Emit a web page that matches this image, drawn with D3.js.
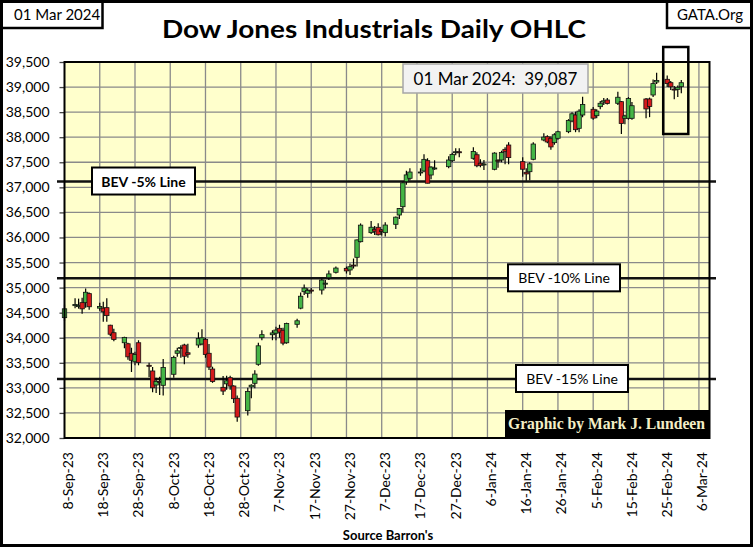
<!DOCTYPE html>
<html>
<head>
<meta charset="utf-8">
<script src="https://cdn.jsdelivr.net/npm/d3@7"></script>
<style>
  body { margin: 0; background: #fff; }
  text { font-family: Lato, "Open Sans", sans-serif; }
</style>
</head>
<body>
<svg class="chart"></svg>
<script>

var width = 753,
    height = 547;

// trading days, Sep 8 2023 .. Mar 1 2024
var days = [
  "2023-09-08","2023-09-11","2023-09-12","2023-09-13","2023-09-14","2023-09-15",
  "2023-09-18","2023-09-19","2023-09-20","2023-09-21","2023-09-22",
  "2023-09-25","2023-09-26","2023-09-27","2023-09-28","2023-09-29",
  "2023-10-02","2023-10-03","2023-10-04","2023-10-05","2023-10-06",
  "2023-10-09","2023-10-10","2023-10-11","2023-10-12","2023-10-13",
  "2023-10-16","2023-10-17","2023-10-18","2023-10-19","2023-10-20",
  "2023-10-23","2023-10-24","2023-10-25","2023-10-26","2023-10-27",
  "2023-10-30","2023-10-31","2023-11-01","2023-11-02","2023-11-03",
  "2023-11-06","2023-11-07","2023-11-08","2023-11-09","2023-11-10",
  "2023-11-13","2023-11-14","2023-11-15","2023-11-16","2023-11-17",
  "2023-11-20","2023-11-21","2023-11-22","2023-11-24",
  "2023-11-27","2023-11-28","2023-11-29","2023-11-30","2023-12-01",
  "2023-12-04","2023-12-05","2023-12-06","2023-12-07","2023-12-08",
  "2023-12-11","2023-12-12","2023-12-13","2023-12-14","2023-12-15",
  "2023-12-18","2023-12-19","2023-12-20","2023-12-21","2023-12-22",
  "2023-12-26","2023-12-27","2023-12-28","2023-12-29",
  "2024-01-02","2024-01-03","2024-01-04","2024-01-05",
  "2024-01-08","2024-01-09","2024-01-10","2024-01-11","2024-01-12",
  "2024-01-16","2024-01-17","2024-01-18","2024-01-19",
  "2024-01-22","2024-01-23","2024-01-24","2024-01-25","2024-01-26",
  "2024-01-29","2024-01-30","2024-01-31","2024-02-01","2024-02-02",
  "2024-02-05","2024-02-06","2024-02-07","2024-02-08","2024-02-09",
  "2024-02-12","2024-02-13","2024-02-14","2024-02-15","2024-02-16",
  "2024-02-20","2024-02-21","2024-02-22","2024-02-23",
  "2024-02-26","2024-02-27","2024-02-28","2024-02-29","2024-03-01"
];

var opens = [
  34400,34640,34620,34700,34700,34880, 34590,34590,34600,34250,34100,
  33900,33880,33690,33520,33900, 33450,33337,33057,33130,33051,
  33271,33690,33790,33855,33700, 33855,33875,33968,33690,33376,
  33011,33080,33203,33037,32792, 32545,33020,33091,33470,34001,
  34060,34090,34188,34150,33900, 34268,34590,34918,34886,34950,
  34952,35080,35197,35305, 35384,35351,35450,35604,35916,
  36096,36163,36203,36149,36096, 36262,36448,36614,37112,37180,
  37300,37326,37532,37246,37370, 37412,37532,37700,37710,
  37579,37650,37480,37460, 37360,37540,37545,37758,37844,
  37512,37300,37312,37559, 37944,38010,37978,37891,37978,
  38110,38323,38443,38177,38443, 38557,38429,38609,38700,38742,
  38676,38709,38377,38377,38377, 38762,38762,38842,39100,
  39155,39088,38960,38955,39008
];

var highs = [
  34660,34790,34780,34800,34980,34900, 34700,34720,34790,34260,34180,
  34020,33900,33800,33720,33950, 33502,33416,33200,33223,33575,
  33640,33800,33850,33880,33880, 34108,34168,34000,33875,33422,
  33237,33240,33240,33050,32850, 33000,33072,33350,33900,34150,
  34150,34220,34260,34200,34300, 34380,34900,35060,34986,34990,
  35180,35150,35340,35420, 35420,35480,35580,35960,36280,
  36330,36230,36282,36170,36302, 36420,36590,37112,37330,37380,
  37380,37659,37580,37420,37540, 37620,37690,37780,37780,
  37800,37700,37560,37545, 37700,37560,37730,37800,37900,
  37600,37380,37500,37900, 38080,38040,38020,38080,38130,
  38360,38500,38510,38560,38809, 38600,38560,38720,38780,38780,
  38908,38720,38450,38800,38700, 38780,38790,39150,39287,
  39230,39120,39020,39030,39140
];

var lows = [
  34330,34590,34580,34480,34600,34560, 34540,34320,34320,34030,33930,
  33790,33560,33316,33450,33450, 33210,32911,32900,32860,32850,
  33200,33620,33600,33470,33600, 33800,33850,33600,33356,33100,
  32860,32960,32960,32700,32325, 32450,32792,32990,33440,33950,
  33950,33950,34000,33850,33880, 34200,34570,34850,34800,34880,
  34860,34980,35150,35280, 35280,35250,35380,35420,35900,
  36070,36050,36040,36040,36020, 36169,36370,36500,37050,37140,
  37230,37300,37080,37160,37350, 37380,37500,37640,37600,
  37550,37400,37400,37346, 37340,37390,37500,37460,37460,
  37212,37133,37140,37540, 37920,37880,37750,37850,37950,
  38080,38300,38100,38100,38400, 38350,38380,38560,38640,38650,
  38640,38064,38260,38350,38350, 38377,38400,38800,39061,
  39000,38940,38756,38800,38876
];

var closes = [
  34577,34664,34646,34576,34907,34618, 34624,34518,34441,34070,33964,
  34007,33619,33550,33666,33508, 33433,33002,33130,33120,33408,
  33605,33739,33805,33631,33670, 33985,33998,33665,33414,33127,
  32936,33141,33036,32784,32418, 32929,33053,33275,33839,34061,
  34096,34153,34112,33892,34283, 34338,34828,34991,34945,34947,
  35151,35088,35273,35390, 35333,35417,35430,35951,36246,
  36204,36125,36054,36117,36248, 36405,36578,37090,37248,37305,
  37306,37558,37082,37404,37386, 37545,37657,37710,37690,
  37715,37430,37440,37466, 37683,37525,37696,37711,37593,
  37361,37267,37469,37864, 38002,37905,37806,38049,38109,
  38333,38467,38150,38520,38654, 38380,38521,38677,38726,38672,
  38797,38273,38424,38773,38628, 38564,38612,39069,39131,
  39069,39005,38949,38996,39087
];

// BEV lines (-5%, -10%, -15%)
var bevLevels = [37116, 35185, 33177];
var bevLabels = ["BEV -5% Line", "BEV -10% Line", "BEV -15% Line"];

var yTicks = d3.range(32000, 39501, 500);
var xStart = "2023-09-08",
    xEnd = "2024-03-09";

var parse = d3.timeParse("%Y-%m-%d");
var fmtX = d3.timeFormat("%-d-%b-%y");

var data = [];
for (i = 0; i < days.length; i++) {
    data.push({date: parse(days[i]), o: opens[i], h: highs[i], l: lows[i], c: closes[i]});
}
var last = data[data.length - 1];

// x tick every 10 days starting at the first day
var xTicks = d3.timeDay.every(1).range(parse(xStart), d3.timeDay.offset(parse(xEnd), -2))
    .filter(function(d, i) { return i % 10 == 0; });

var x = d3.scaleTime()
    .domain([parse(xStart), parse(xEnd)])
    .range([64.5, 709.5]);

var y = d3.scaleLinear()
    .domain([32000, 39500])
    .range([438, 62]);

var svg = d3.select(".chart")
    .attr("width", width)
    .attr("height", height);

svg.append("rect")
    .attr("width", width).attr("height", height)
    .attr("fill", "#fff");

// plot background
svg.append("rect")
    .attr("x", x.range()[0]).attr("y", y.range()[1])
    .attr("width", x.range()[1] - x.range()[0])
    .attr("height", y.range()[0] - y.range()[1])
    .attr("fill", "#ffffcc");

// grid
svg.append("g").selectAll("line")
    .data(yTicks.slice(1, -1))
  .enter().append("line")
    .attr("x1", x.range()[0]).attr("x2", x.range()[1])
    .attr("y1", function(d) { return y(d); })
    .attr("y2", function(d) { return y(d); })
    .attr("stroke", "#8a8a8a").attr("stroke-width", 1.3);

svg.append("g").selectAll("line")
    .data(xTicks.slice(1))
  .enter().append("line")
    .attr("x1", function(d) { return x(d); })
    .attr("x2", function(d) { return x(d); })
    .attr("y1", y.range()[0]).attr("y2", y.range()[1])
    .attr("stroke", "#8a8a8a").attr("stroke-width", 1.3);

// y axis
var yAxis = d3.axisLeft(y)
    .tickValues(yTicks)
    .tickSize(5)
    .tickPadding(10)
    .tickFormat(d3.format(","));

var gy = svg.append("g")
    .attr("transform", "translate(" + x.range()[0] + ",0)")
    .call(yAxis);
gy.select(".domain").remove();
gy.selectAll("line").attr("stroke", "#444").attr("stroke-width", 1.3);
gy.selectAll("text")
    .style("font-family", "Lato, sans-serif")
    .style("font-size", "14px")
    .attr("fill", "#000");

// x axis labels, rotated
var xAxis = d3.axisBottom(x)
    .tickValues(xTicks)
    .tickSize(0)
    .tickFormat(fmtX);

var gx = svg.append("g")
    .attr("transform", "translate(0," + y.range()[0] + ")")
    .call(xAxis);
gx.select(".domain").remove();
gx.selectAll("text")
    .style("font-family", "Lato, sans-serif")
    .style("font-size", "14px")
    .attr("fill", "#000")
    .attr("text-anchor", "end")
    .attr("transform", "translate(3,14) rotate(-90)")
    .attr("x", 0).attr("y", 0)
    .attr("dy", "0.35em");

// BEV lines
svg.append("g").selectAll("line")
    .data(bevLevels)
  .enter().append("line")
    .attr("x1", 57).attr("x2", 716)
    .attr("y1", function(d) { return y(d); })
    .attr("y2", function(d) { return y(d); })
    .attr("stroke", "#111").attr("stroke-width", 2.5);

// candles
var candle = svg.append("g").selectAll("g")
    .data(data)
  .enter().append("g")
    .attr("transform", function(d) { return "translate(" + x(d.date) + ",0)"; });

candle.append("line")
    .attr("y1", function(d) { return y(d.h); })
    .attr("y2", function(d) { return y(d.l); })
    .attr("stroke", "#000").attr("stroke-width", 1.2);

candle.append("rect")
    .attr("x", -2.2)
    .attr("width", 4.4)
    .attr("y", function(d) { return y(Math.max(d.o, d.c)); })
    .attr("height", function(d) { return Math.max(1, Math.abs(y(d.o) - y(d.c))); })
    .attr("fill", function(d) { return d.c >= d.o ? "#45b545" : "#d41a1a"; })
    .attr("stroke", "#111").attr("stroke-width", 0.8);

// plot border drawn on top
svg.append("rect")
    .attr("x", x.range()[0]).attr("y", y.range()[1])
    .attr("width", x.range()[1] - x.range()[0])
    .attr("height", y.range()[0] - y.range()[1])
    .attr("fill", "none")
    .attr("stroke", "#000").attr("stroke-width", 2);

// BEV label boxes
var bevBoxes = [[92, 195], [508, 620], [516, 628]];
for (i = 0; i < bevLevels.length; i++) {
    var yy = y(bevLevels[i]);
    svg.append("rect")
        .attr("x", bevBoxes[i][0]).attr("y", yy - 14)
        .attr("width", bevBoxes[i][1] - bevBoxes[i][0]).attr("height", 27)
        .attr("fill", "#fff").attr("stroke", "#000").attr("stroke-width", 2);
    svg.append("text")
        .attr("x", (bevBoxes[i][0] + bevBoxes[i][1]) / 2)
        .attr("y", yy + 5)
        .attr("text-anchor", "middle")
        .style("font-size", "14px")
        .style("font-weight", i == 0 ? "bold" : "normal")
        .style("white-space", "pre")
        .text(bevLabels[i]);
}

// last week highlight box
svg.append("rect")
    .attr("x", x(data[data.length - 5].date) - 4)
    .attr("y", 47)
    .attr("width", x(last.date) - x(data[data.length - 5].date) + 11)
    .attr("height", 87)
    .attr("fill", "none")
    .attr("stroke", "#000").attr("stroke-width", 2.5);

// last close callout
svg.append("rect")
    .attr("x", 403).attr("y", 64)
    .attr("width", 185).attr("height", 29)
    .attr("fill", "#f2f2f2")
    .attr("stroke", "#a6a6a6").attr("stroke-width", 1.5);
svg.append("text")
    .attr("x", 495.5).attr("y", 84.5)
    .attr("text-anchor", "middle")
    .style("font-size", "17px")
    .style("white-space", "pre")
    .text(d3.timeFormat("%d %b %Y")(last.date) + ":  " + d3.format(",")(last.c));

// signature
svg.append("rect")
    .attr("x", 505).attr("y", 410)
    .attr("width", 205).attr("height", 27)
    .attr("fill", "#000");
svg.append("text")
    .attr("x", 508).attr("y", 429)
    .attr("textLength", 197)
    .attr("lengthAdjust", "spacingAndGlyphs")
    .style("font-family", "'Liberation Serif', 'DejaVu Serif', serif")
    .style("font-weight", "bold")
    .style("font-size", "16px")
    .attr("fill", "#f3eec6")
    .text("Graphic by Mark J. Lundeen");

// title
svg.append("text")
    .attr("x", 374).attr("y", 38)
    .attr("text-anchor", "middle")
    .attr("textLength", 424)
    .attr("lengthAdjust", "spacingAndGlyphs")
    .style("font-size", "25px")
    .style("font-weight", "bold")
    .text("Dow Jones Industrials Daily OHLC");

// corner boxes
svg.append("rect")
    .attr("x", 1.5).attr("y", 1.5)
    .attr("width", 101).attr("height", 26.5)
    .attr("fill", "#fff").attr("stroke", "#000").attr("stroke-width", 2.5);
svg.append("text")
    .attr("x", 14).attr("y", 20)
    .style("font-size", "15px")
    .text("01 Mar 2024");

svg.append("rect")
    .attr("x", 667).attr("y", 1.5)
    .attr("width", 84.5).attr("height", 26.5)
    .attr("fill", "#fff").attr("stroke", "#000").attr("stroke-width", 2.5);
svg.append("text")
    .attr("x", 710).attr("y", 20)
    .attr("text-anchor", "middle")
    .style("font-size", "15px")
    .text("GATA.Org");

svg.append("text")
    .attr("x", 388).attr("y", 540)
    .attr("text-anchor", "middle")
    .style("font-size", "13px")
    .style("font-weight", "bold")
    .text("Source Barron's");

// outer frame
svg.append("rect")
    .attr("x", 1.5).attr("y", 1.5)
    .attr("width", width - 3).attr("height", height - 3)
    .attr("fill", "none")
    .attr("stroke", "#000").attr("stroke-width", 3);

</script>
</body>
</html>
